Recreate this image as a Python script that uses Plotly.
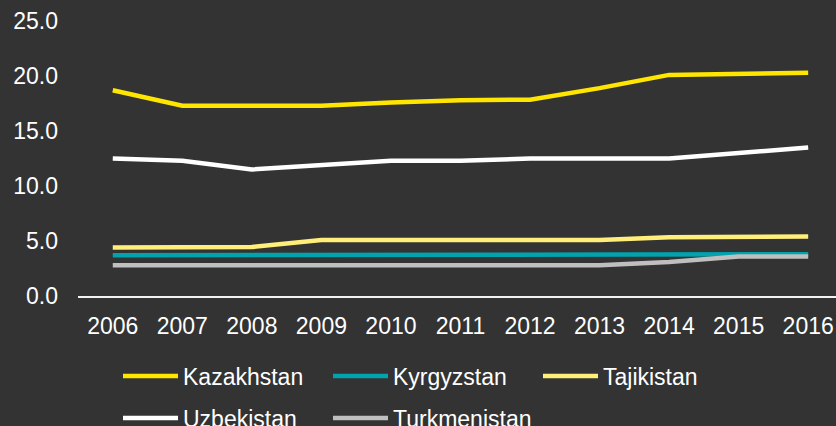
import plotly.graph_objects as go

years = ["2006", "2007", "2008", "2009", "2010", "2011", "2012", "2013", "2014", "2015", "2016"]
kazakhstan = [18.7, 17.3, 17.3, 17.3, 17.6, 17.8, 17.85, 18.9, 20.1, 20.2, 20.3]
kyrgyzstan = [3.7, 3.7, 3.7, 3.7, 3.7, 3.7, 3.7, 3.7, 3.7, 3.8, 3.8]
tajikistan = [4.4, 4.4, 4.45, 5.1, 5.1, 5.1, 5.1, 5.1, 5.35, 5.4, 5.4]
uzbekistan = [12.5, 12.3, 11.5, 11.9, 12.3, 12.3, 12.5, 12.5, 12.5, 13.0, 13.5]
turkmenistan = [2.8, 2.8, 2.8, 2.8, 2.8, 2.8, 2.8, 2.8, 3.1, 3.6, 3.6]
y_ticks = [0, 5, 10, 15, 20, 25]

series = [
    ("Kazakhstan", kazakhstan, "#FFE600", "legend"),
    ("Kyrgyzstan", kyrgyzstan, "#00A3AE", "legend"),
    ("Tajikistan", tajikistan, "#FFEF7A", "legend"),
    ("Uzbekistan", uzbekistan, "#FFFFFF", "legend2"),
    ("Turkmenistan", turkmenistan, "#BFBFBF", "legend2"),
]

fig = go.Figure()
for name, vals, color, leg in series:
    fig.add_trace(go.Scatter(
        x=years, y=vals, name=name, mode="lines",
        line=dict(color=color, width=4.5),
        legend=leg,
    ))

sans = "Liberation Sans, Arial, sans-serif"
legend_common = dict(
    orientation="h", xref="container", yref="container",
    xanchor="left", yanchor="middle",
    font=dict(family=sans, size=23, color="#FFFFFF"),
    bgcolor="rgba(0,0,0,0)", entrywidth=140, entrywidthmode="pixels",
    itemwidth=55, traceorder="normal",
)

fig.update_layout(
    width=836, height=426,
    paper_bgcolor="#333333", plot_bgcolor="#333333",
    margin=dict(l=78, r=0, t=21, b=130, autoexpand=False),
    showlegend=True,
    legend=dict(x=118 / 836, y=1 - 376 / 426, **legend_common),
    legend2=dict(x=118 / 836, y=1 - 418 / 426, **legend_common),
    xaxis=dict(
        type="category", range=[-0.5, 10.4],
        showline=True, linecolor="#F2F2F2", linewidth=1.5,
        showgrid=False, zeroline=False, ticks="",
        ticklabelstandoff=9,
        tickfont=dict(family=sans, size=23, color="#FFFFFF"),
    ),
    yaxis=dict(
        range=[0, 25], tickvals=y_ticks, tickformat=".1f",
        showline=False, showgrid=False, zeroline=False, ticks="",
        ticklabelstandoff=19,
        tickfont=dict(family=sans, size=23, color="#FFFFFF"),
    ),
)

fig.write_html(
    "out.html",
    config={"displayModeBar": False},
    post_script="document.body.style.margin='0';document.body.style.overflow='hidden';",
)
